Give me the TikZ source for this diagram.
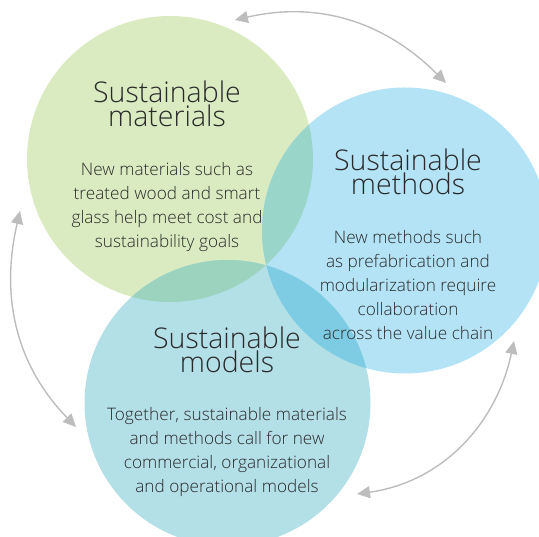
\documentclass[tikz,border=0pt]{standalone}
\usepackage{fontspec}
\IfFontExistsTF{Open Sans Light}{\setmainfont{Open Sans Light}}{\setmainfont{Open Sans}}
\usetikzlibrary{arrows.meta}
\definecolor{cgreen}{HTML}{DBEBC1}
\definecolor{cblue}{HTML}{B3E3F5}
\definecolor{cteal}{HTML}{B3DFE7}
\definecolor{cgb}{HTML}{9AD5C9}
\definecolor{cbt}{HTML}{7ECCE3}
\definecolor{cgt}{HTML}{9BD3BE}
\definecolor{carrow}{HTML}{BDBDBD}
\definecolor{ctext}{HTML}{2A2A2A}
\tikzset{
  circ/.style={circle, minimum size=286pt, inner sep=0pt, draw=none},
  titletext/.style={align=center, anchor=base, inner sep=0pt, text=ctext,
    font=\fontsize{28.5}{24}\selectfont},
  bodytext/.style={align=center, anchor=base, inner sep=0pt, text=ctext,
    font=\fontsize{17.2}{24}\selectfont},
  cyc/.style={draw=carrow, line width=1.4pt, {Triangle[length=13pt,width=12pt]}-{Triangle[length=13pt,width=12pt]}, fill=none},
}
\begin{document}
\begin{tikzpicture}[x=1pt,y=1pt]
\clip (0,0) rectangle (539,537);
\node[circ, fill=cgreen] (mat) at (170,378) {};
\node[circ, fill=cblue] (met) at (405,306.5) {};
\node[circ, fill=cteal] (mod) at (227.5,134) {};
\begin{scope}
  \clip (mat.center) circle[radius=143];
  \fill[cgb] (met.center) circle[radius=143];
  \fill[cgt] (mod.center) circle[radius=143];
\end{scope}
\begin{scope}
  \clip (met.center) circle[radius=143];
  \fill[cbt] (mod.center) circle[radius=143];
\end{scope}
\node[titletext] (matT) at (167,410) {Sustainable\\materials};
\node[bodytext] (matB) at (167,289) {New materials such as\\treated wood and smart\\glass help meet cost and\\sustainability goals};
\node[titletext] (metT) at (408,342) {Sustainable\\methods};
\node[bodytext] (metB) at (408,197) {New methods such\\as prefabrication and\\modularization require\\collaboration\\across the value chain};
\node[titletext] (modT) at (227,164) {Sustainable\\models};
\node[bodytext] (modB) at (227,44) {Together, sustainable materials\\and methods call for new\\commercial, organizational\\and operational models};
\coordinate (t1) at (235,517);
\coordinate (t2) at (446,454);
\coordinate (l1) at (20,326);
\coordinate (l2) at (76,110);
\coordinate (r1) at (514,196);
\coordinate (r2) at (357,43);
\draw[cyc] (t1) to[out=13,in=135] (t2);
\draw[cyc] (l1) to[out=-103,in=134] (l2);
\draw[cyc] (r1) to[out=-102,in=8] (r2);
\end{tikzpicture}
\end{document}
